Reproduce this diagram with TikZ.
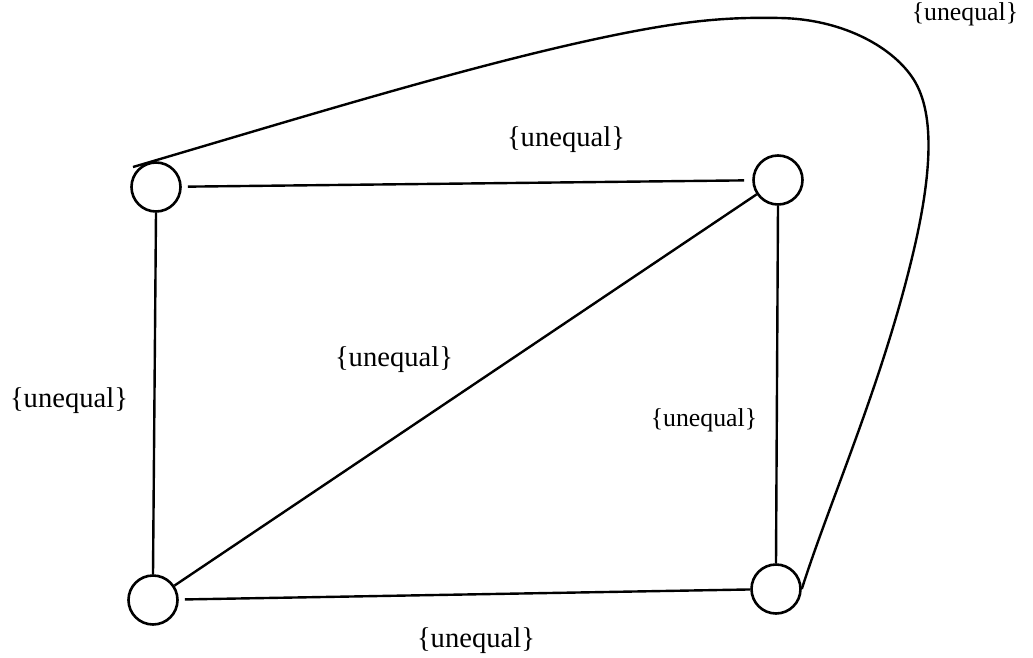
\documentclass[tikz,border=0pt]{standalone}
\usepackage{fontspec}
\setmainfont{Liberation Serif}
\usepackage{tikz}
\usetikzlibrary{positioning}

\begin{document}
\begin{tikzpicture}[x=0.5pt, y=-0.5pt, line width=1.2pt,
  vertex/.style={circle, draw, line width=1.3pt, minimum size=24.5pt, inner sep=0pt},
  elabel/.style={font=\fontsize{14.3}{16}\selectfont, inner sep=0pt},
  elabelsmall/.style={font=\fontsize{12.9}{15}\selectfont, inner sep=0pt}]

\useasboundingbox (0,0) rectangle (1033,658);

% Vertices
\node[vertex] at (156,187) (tl) {};
\node[vertex] at (778,180) (tr) {};
\node[vertex] at (153,600) (bl) {};
\node[vertex] at (776,589) (br) {};

% Start of the outer arc
\coordinate (arcstart) at (133,167);

% Edges
\draw[shorten <=3pt, shorten >=4pt] (tl) -- (tr);
\draw (tl.south) -- (bl.north);
\draw (bl) -- (tr);
\draw (tr.south) -- (br.north);
\draw[shorten <=3pt] (bl) -- (br);

% Outer arc from tl round to br
\draw (arcstart) .. controls (300,118) and (480,62) .. (620,34)
  .. controls (690,20) and (730,17) .. (780,18)
  .. controls (840,19) and (890,45) .. (912,77)
  .. controls (935,110) and (932,170) .. (915,245)
  .. controls (884,380) and (830,500) .. (br.east);

% Edge labels
\node[elabel] at (566,140) (lbltop) {\{unequal\}};
\node[elabelsmall] at (965,14) (lblarc) {\{unequal\}};
\node[elabel] at (394,360) (lbldiag) {\{unequal\}};
\node[elabel] at (69,401) (lblleft) {\{unequal\}};
\node[elabelsmall] at (704,420) (lblright) {\{unequal\}};
\node[elabel] at (476,641) (lblbottom) {\{unequal\}};

\end{tikzpicture}
\end{document}
